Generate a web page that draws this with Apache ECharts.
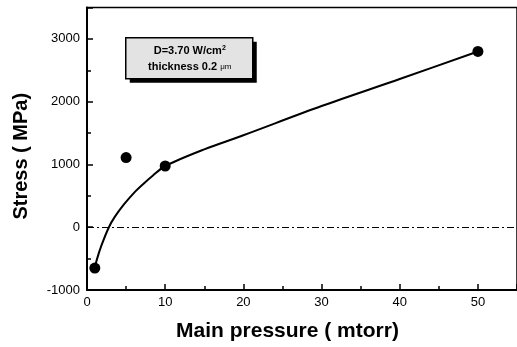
<!DOCTYPE html>
<html><head><meta charset="utf-8">
<script src="https://cdn.jsdelivr.net/npm/echarts@6/dist/echarts.min.js"></script>
<style>html,body{margin:0;padding:0;background:#fff}#c{width:517px;height:347px}</style>
</head><body><div id="c"></div>
<script>
const pressure = [1, 5, 10, 50];
const stress = [-650, 1110, 975, 2800];
const fitX = [1, 1.25, 1.85, 2.8, 3.55, 4.8, 6.1, 7.2, 8.4, 10, 15, 20, 30, 40, 50];
const fitY = [-650, -520, -290, 0, 165, 375, 560, 690, 820, 975, 1240, 1465, 1930, 2360, 2800];
const xTitle = 'Main pressure ( mtorr)';
const yTitle = 'Stress ( MPa)';
const boxLine1 = 'D=3.70 W/cm';
const boxLine2 = 'thickness 0.2 ';

const chart = echarts.init(document.getElementById('c'));
const font = 'Liberation Sans, Arial, sans-serif';
chart.setOption({
  animation: false,
  grid: {left: 87, top: 7.5, width: 433, height: 284.5, containLabel: false,
         show: true, borderColor: '#000', borderWidth: 1.5, backgroundColor: 'transparent'},
  xAxis: {
    type: 'value', min: 0, max: 55, interval: 10,
    axisLine: {show: true, onZero: false, lineStyle: {color: '#000', width: 2}},
    axisTick: {show: true, inside: true, length: 6, lineStyle: {color: '#000', width: 1.5}},
    minorTick: {show: true, splitNumber: 2, length: 4, lineStyle: {color: '#000', width: 1.5}},
    axisLabel: {color: '#000', fontFamily: font, fontSize: 13, margin: 6, showMaxLabel: false,
                formatter: v => String(v)},
    splitLine: {show: false},
    name: xTitle, nameLocation: 'middle', nameGap: 31,
    nameTextStyle: {color: '#000', fontFamily: font, fontSize: 21, fontWeight: 'bold', padding: [0, 29, 0, 0]}
  },
  yAxis: {
    type: 'value', min: -1000, max: 3500, interval: 1000,
    axisLine: {show: true, onZero: false, lineStyle: {color: '#000', width: 2}},
    axisTick: {show: true, inside: true, length: 6, lineStyle: {color: '#000', width: 1.5}},
    minorTick: {show: true, splitNumber: 2, length: 4, lineStyle: {color: '#000', width: 1.5}},
    axisLabel: {color: '#000', fontFamily: font, fontSize: 13, margin: 7, showMaxLabel: false,
                formatter: v => String(v)},
    splitLine: {show: false},
    name: yTitle, nameLocation: 'middle', nameGap: 56, nameRotate: 90,
    nameTextStyle: {color: '#000', fontFamily: font, fontSize: 20, fontWeight: 'bold', padding: [0, 15, 0, 0]}
  },
  series: [{
    type: 'line', data: fitX.map((x, i) => [x, fitY[i]]), smooth: 0.3,
    showSymbol: false, lineStyle: {color: '#000', width: 2}, z: 2,
    markLine: {
      silent: true, symbol: 'none', label: {show: false},
      lineStyle: {color: '#000', width: 1, type: [7, 3, 2, 3]},
      data: [{yAxis: 0}]
    }
  }, {
    type: 'scatter', data: pressure.map((x, i) => [x, stress[i]]),
    symbol: 'circle', symbolSize: 11, itemStyle: {color: '#000', opacity: 1}, z: 3
  }],
  graphic: [{
    type: 'group', left: 125, top: 37,
    children: [
      {type: 'rect', shape: {x: 4, y: 4, width: 127, height: 41}, style: {fill: '#000'}},
      {type: 'rect', shape: {x: 0, y: 0, width: 127, height: 41}, style: {fill: '#e3e3e3', stroke: '#000', lineWidth: 1.5}},
      {type: 'text', x: 64, y: 13, style: {
        text: '{a|' + boxLine1 + '}{s|2}', align: 'center', verticalAlign: 'middle',
        rich: {a: {fontFamily: font, fontSize: 11, fontWeight: 'bold', fill: '#000'},
               s: {fontFamily: font, fontSize: 7, fontWeight: 'bold', fill: '#000', verticalAlign: 'top', padding: [0,0,6,0]}}
      }},
      {type: 'text', x: 64, y: 29, style: {
        text: '{a|' + boxLine2 + '}{u|μm}', align: 'center', verticalAlign: 'middle',
        rich: {a: {fontFamily: font, fontSize: 11, fontWeight: 'bold', fill: '#000'},
               u: {fontFamily: font, fontSize: 8, fill: '#000'}}
      }}
    ]
  }]
});
</script></body></html>
